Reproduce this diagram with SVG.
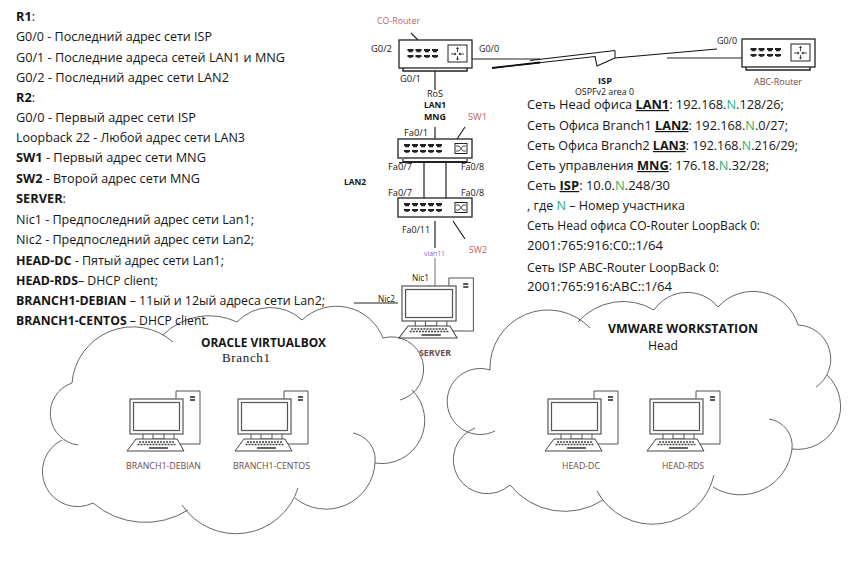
<svg xmlns="http://www.w3.org/2000/svg" xmlns:xlink="http://www.w3.org/1999/xlink" width="860" height="572" viewBox="0 0 860 572">
<style>
text{font-family:"Open Sans","Noto Sans","Liberation Sans",sans-serif;fill:#151515}
.t{font-size:12px}
.s{font-size:8.5px}
.b{font-weight:700}
.n{fill:#2fb06a}
.u{font-weight:700;text-decoration:underline}
.red{fill:#b9655f}
.br{fill:#6b4a4a}
.box{fill:#fff;stroke:#222;stroke-width:1.3}
.ln{fill:none;stroke:#222;stroke-width:1.2}
.cl{fill:none;stroke:#555;stroke-width:.9}
.pc{fill:none;stroke:#555;stroke-width:1}
</style>
<defs>
<g id="port"><path d="M0 0H6V2H5V3.200H1V2H0Z" fill="#222"/><path d="M0 8V6H6V8H4.800V8.800H1.200V8Z" fill="#222"/></g>
<g id="pc">
<path d="M46 8V-8H70V45H50" fill="#fff" stroke="#555" stroke-width="1"/>
<path d="M60-2h5M60 1h5" stroke="#222" stroke-width="1.400"/>
<rect x="0" y="0" width="53" height="35" fill="#fff" stroke="#555" stroke-width="1.200"/>
<rect x="3.500" y="3.500" width="46" height="28" fill="#fff" stroke="#555" stroke-width="1.200"/>
<path d="M23 35V40H34V35M13 35V40M44 35V40" class="pc"/>
<path d="M6 40H47L54 52H-3Z" fill="#fff" stroke="#444" stroke-width="1"/>
<path d="M9 43H44M7.500 45.500H45.500" stroke="#444" stroke-width="1.400" stroke-dasharray="2 1"/>
<path d="M19 49H38" stroke="#333" stroke-width="1.500"/>
</g>
<g id="rtr">
<path d="M4 28V31H68V28" fill="#fff" stroke="#222" stroke-width="1.400"/>
<rect x="0" y="0" width="73" height="28" class="box"/>
<use href="#port" x="8.500" y="9"/><use href="#port" x="16.500" y="9"/><use href="#port" x="25" y="9"/><use href="#port" x="33" y="9"/>
<rect x="49" y="5" width="19" height="17" fill="#fff" stroke="#222" stroke-width="1"/>
<path d="M52 14H57M65 14H60M58.500 7.500V12M58.500 20V16" stroke="#222" stroke-width=".8" fill="none"/>
<path d="M57.500 14l-2-1.500v3ZM59.500 14l2-1.500v3ZM58.500 7l-1.500 2h3ZM58.500 20.500l-1.500-2h3Z" fill="#222"/>
</g>
<g id="sw">
<rect x="0" y="0" width="74" height="19" class="box"/>
<use href="#port" x="6" y="5"/><use href="#port" x="14" y="5"/><use href="#port" x="22" y="5"/><use href="#port" x="30" y="5"/><use href="#port" x="38" y="5"/>
<rect x="57" y="4.500" width="12" height="10" fill="#fff" stroke="#222" stroke-width="1"/>
<path d="M58 7H61L65 12H68M58 12H61L65 7H68" fill="none" stroke="#222" stroke-width=".8"/>
</g>
</defs>

<g id="connectors">
<path class="ln" d="M411 33L418 40M435 71V90M435 127V139M457 139L465 127M453 221L465 239M424 162V198M446 162V198M435 221V248"/>
<path d="M435 258V286" stroke="#888" stroke-width="1.200"/>
<path class="ln" d="M354 303H398"/>
<path class="ln" d="M468 59H540M667 58H742"/>
<path d="M492 68L595 56.500L597 66L615 58L717 49" fill="none" stroke="#111" stroke-width="1.100"/>
<path d="M492 68L540 62.500" fill="none" stroke="#111" stroke-width="1.800"/>
<path d="M530 60.500L615 50.500V58" fill="none" stroke="#111" stroke-width="1"/>
</g>

<g id="cloud-branch1"><path class="cl" d="M72 383A61 61 0 0 1 173 342M163 335A65 65 0 0 1 237 322A46 46 0 0 1 302 320A50 50 0 0 1 383 338A32 32 0 0 1 400 400M412 390A43 43 0 0 1 375 463A49 49 0 0 1 295 498M353 433A27 27 0 0 1 375 463M298 488A65 65 0 0 1 182 505M188 510A80 80 0 0 1 93 503A34 34 0 0 1 62 440M78 445A32 32 0 0 1 72 383"/></g>
<g id="cloud-head"><path class="cl" d="M490 370A58 58 0 0 1 590 328M578 322A60 60 0 0 1 654 310A40 40 0 0 1 718 307A47 47 0 0 1 798 325A34 34 0 0 1 816 387M827 375A43 43 0 0 1 792 449A52 52 0 0 1 713 487M769 419A27 27 0 0 1 792 449M714 475A63 63 0 0 1 597 491M603 500A70 70 0 0 1 510 485A34 34 0 1 1 475 428M495 431A33 33 0 1 1 490 370"/></g>

<g id="co-router"><use href="#rtr" x="399" y="40"/><text class="s red" x="377" y="24" textLength="43" lengthAdjust="spacingAndGlyphs">CO-Router</text></g>
<g id="abc-router"><use href="#rtr" x="742" y="39"/><text class="s br" x="754" y="85" textLength="48" lengthAdjust="spacingAndGlyphs">ABC-Router</text></g>
<g id="sw1"><use href="#sw" x="398" y="139"/><path d="M403 159V161.500H467V159M399 162.500H471" fill="none" stroke="#222" stroke-width="1.200"/><text class="s red" x="468" y="120" textLength="19" lengthAdjust="spacingAndGlyphs">SW1</text></g>
<g id="sw2"><use href="#sw" x="398" y="198"/><text class="s red" x="469" y="253" textLength="18" lengthAdjust="spacingAndGlyphs">SW2</text></g>
<g id="server"><use href="#pc" transform="translate(402 286) scale(1.020 1)"/><text class="s b br" x="419" y="356" textLength="32" lengthAdjust="spacingAndGlyphs">SERVER</text></g>
<g id="branch1-debian"><use href="#pc" x="130" y="399"/><text class="s br" x="126" y="469" textLength="75" lengthAdjust="spacingAndGlyphs">BRANCH1-DEBIAN</text></g>
<g id="branch1-centos"><use href="#pc" x="238" y="399"/><text class="s br" x="233" y="469" textLength="77" lengthAdjust="spacingAndGlyphs">BRANCH1-CENTOS</text></g>
<g id="head-dc"><use href="#pc" x="548" y="399"/><text class="s br" x="562" y="469" textLength="38" lengthAdjust="spacingAndGlyphs">HEAD-DC</text></g>
<g id="head-rds"><use href="#pc" x="650" y="399"/><text class="s br" x="662" y="469" textLength="42" lengthAdjust="spacingAndGlyphs">HEAD-RDS</text></g>

<g id="link-labels">
<text class="s" x="371" y="52" textLength="21" lengthAdjust="spacingAndGlyphs">G0/2</text>
<text class="s" x="479" y="52" textLength="20" lengthAdjust="spacingAndGlyphs">G0/0</text>
<text class="s" x="400" y="82" textLength="21" lengthAdjust="spacingAndGlyphs">G0/1</text>
<text class="s" x="717" y="44" textLength="20" lengthAdjust="spacingAndGlyphs">G0/0</text>
<text class="s" x="427" y="97" textLength="16" lengthAdjust="spacingAndGlyphs">RoS</text>
<text class="s b" x="424" y="108" textLength="22" lengthAdjust="spacingAndGlyphs">LAN1</text>
<text class="s b" x="424" y="120" textLength="22" lengthAdjust="spacingAndGlyphs">MNG</text>
<text class="s" x="404" y="136" textLength="24" lengthAdjust="spacingAndGlyphs">Fa0/1</text>
<text class="s" x="388" y="170" textLength="24" lengthAdjust="spacingAndGlyphs">Fa0/7</text>
<text class="s" x="461" y="170" textLength="23" lengthAdjust="spacingAndGlyphs">Fa0/8</text>
<text class="s" x="388" y="196" textLength="24" lengthAdjust="spacingAndGlyphs">Fa0/7</text>
<text class="s" x="461" y="196" textLength="23" lengthAdjust="spacingAndGlyphs">Fa0/8</text>
<text class="s b" x="344" y="185" textLength="22" lengthAdjust="spacingAndGlyphs">LAN2</text>
<text class="s" x="402" y="233" textLength="28" lengthAdjust="spacingAndGlyphs">Fa0/11</text>
<text class="s" x="424" y="256" textLength="21" lengthAdjust="spacingAndGlyphs" style="fill:#8f5fc4;font-size:7.500px">vlan11</text>
<text class="s" x="412" y="281" textLength="17" lengthAdjust="spacingAndGlyphs">Nic1</text>
<text class="s" x="378" y="302" textLength="17" lengthAdjust="spacingAndGlyphs">Nic2</text>
<text class="s b" x="598" y="84" textLength="14" lengthAdjust="spacingAndGlyphs">ISP</text>
<text class="s" x="575" y="95" textLength="59" lengthAdjust="spacingAndGlyphs">OSPFv2 area 0</text>
<text class="b" x="201" y="347" textLength="125" lengthAdjust="spacingAndGlyphs" style="font-size:12px">ORACLE VIRTUALBOX</text>
<text x="222" y="362" textLength="48" style="font-family:'Liberation Serif',serif;font-size:13px">Branch1</text>
<text class="b" x="608" y="333" textLength="150" lengthAdjust="spacingAndGlyphs" style="font-size:12px">VMWARE WORKSTATION</text>
<text x="648" y="350" textLength="30" lengthAdjust="spacingAndGlyphs" style="font-size:12px">Head</text>
</g>

<g id="assignments">
<text class="t" x="16" y="21" textLength="19" lengthAdjust="spacingAndGlyphs"><tspan class="b">R1</tspan>:</text>
<text class="t" x="16" y="41" textLength="196" lengthAdjust="spacingAndGlyphs">G0/0 - Последний адрес сети ISP</text>
<text class="t" x="16" y="62" textLength="269" lengthAdjust="spacingAndGlyphs">G0/1 - Последние адреса сетей LAN1 и MNG</text>
<text class="t" x="16" y="82" textLength="213" lengthAdjust="spacingAndGlyphs">G0/2 - Последний адрес сети LAN2</text>
<text class="t" x="16" y="102" textLength="19" lengthAdjust="spacingAndGlyphs"><tspan class="b">R2</tspan>:</text>
<text class="t" x="16" y="122" textLength="180" lengthAdjust="spacingAndGlyphs">G0/0 - Первый адрес сети ISP</text>
<text class="t" x="16" y="142" textLength="229" lengthAdjust="spacingAndGlyphs">Loopback 22 - Любой адрес сети LAN3</text>
<text class="t" x="16" y="162" textLength="190" lengthAdjust="spacingAndGlyphs"><tspan class="b">SW1</tspan> - Первый адрес сети MNG</text>
<text class="t" x="16" y="183" textLength="184" lengthAdjust="spacingAndGlyphs"><tspan class="b">SW2</tspan> - Второй адрес сети MNG</text>
<text class="t" x="16" y="203" textLength="50" lengthAdjust="spacingAndGlyphs"><tspan class="b">SERVER</tspan>:</text>
<text class="t" x="16" y="224" textLength="238" lengthAdjust="spacingAndGlyphs">Nic1 - Предпоследний адрес сети Lan1;</text>
<text class="t" x="16" y="244" textLength="238" lengthAdjust="spacingAndGlyphs">Nic2 - Предпоследний адрес сети Lan2;</text>
<text class="t" x="16" y="265" textLength="208" lengthAdjust="spacingAndGlyphs"><tspan class="b">HEAD-DC</tspan> - Пятый адрес сети Lan1;</text>
<text class="t" x="16" y="285" textLength="142" lengthAdjust="spacingAndGlyphs"><tspan class="b">HEAD-RDS</tspan>– DHCP client;</text>
<text class="t" x="16" y="305" textLength="309" lengthAdjust="spacingAndGlyphs"><tspan class="b">BRANCH1-DEBIAN</tspan> – 11ый и 12ый адреса сети Lan2;</text>
<text class="t" x="16" y="325" textLength="193" lengthAdjust="spacingAndGlyphs"><tspan class="b">BRANCH1-CENTOS</tspan> – DHCP client.</text>
</g>

<g id="networks">
<text class="t" x="527" y="109" textLength="257" lengthAdjust="spacingAndGlyphs">Сеть Head офиса <tspan class="u">LAN1</tspan>: 192.168.<tspan class="n">N</tspan>.128/26;</text>
<text class="t" x="527" y="130" textLength="261" lengthAdjust="spacingAndGlyphs">Сеть Офиса Branch1 <tspan class="u">LAN2</tspan>: 192.168.<tspan class="n">N</tspan>.0/27;</text>
<text class="t" x="527" y="150" textLength="271" lengthAdjust="spacingAndGlyphs">Сеть Офиса Branch2 <tspan class="u">LAN3</tspan>: 192.168.<tspan class="n">N</tspan>.216/29;</text>
<text class="t" x="527" y="170" textLength="242" lengthAdjust="spacingAndGlyphs">Сеть управления <tspan class="u">MNG</tspan>: 176.18.<tspan class="n">N</tspan>.32/28;</text>
<text class="t" x="527" y="190" textLength="143" lengthAdjust="spacingAndGlyphs">Сеть <tspan class="u">ISP</tspan>: 10.0.<tspan class="n">N</tspan>.248/30</text>
<text class="t" x="527" y="210" textLength="158" lengthAdjust="spacingAndGlyphs">, где <tspan class="n">N</tspan> – Номер участника</text>
<text class="t" x="527" y="230" textLength="233" lengthAdjust="spacingAndGlyphs">Сеть Head офиса CO-Router LoopBack 0:</text>
<text class="t" x="527" y="250" textLength="136" lengthAdjust="spacingAndGlyphs">2001:765:916:C0::1/64</text>
<text class="t" x="527" y="272" textLength="192" lengthAdjust="spacingAndGlyphs">Сеть ISP ABC-Router LoopBack 0:</text>
<text class="t" x="527" y="291" textLength="145" lengthAdjust="spacingAndGlyphs">2001:765:916:ABC::1/64</text>
</g>
</svg>
